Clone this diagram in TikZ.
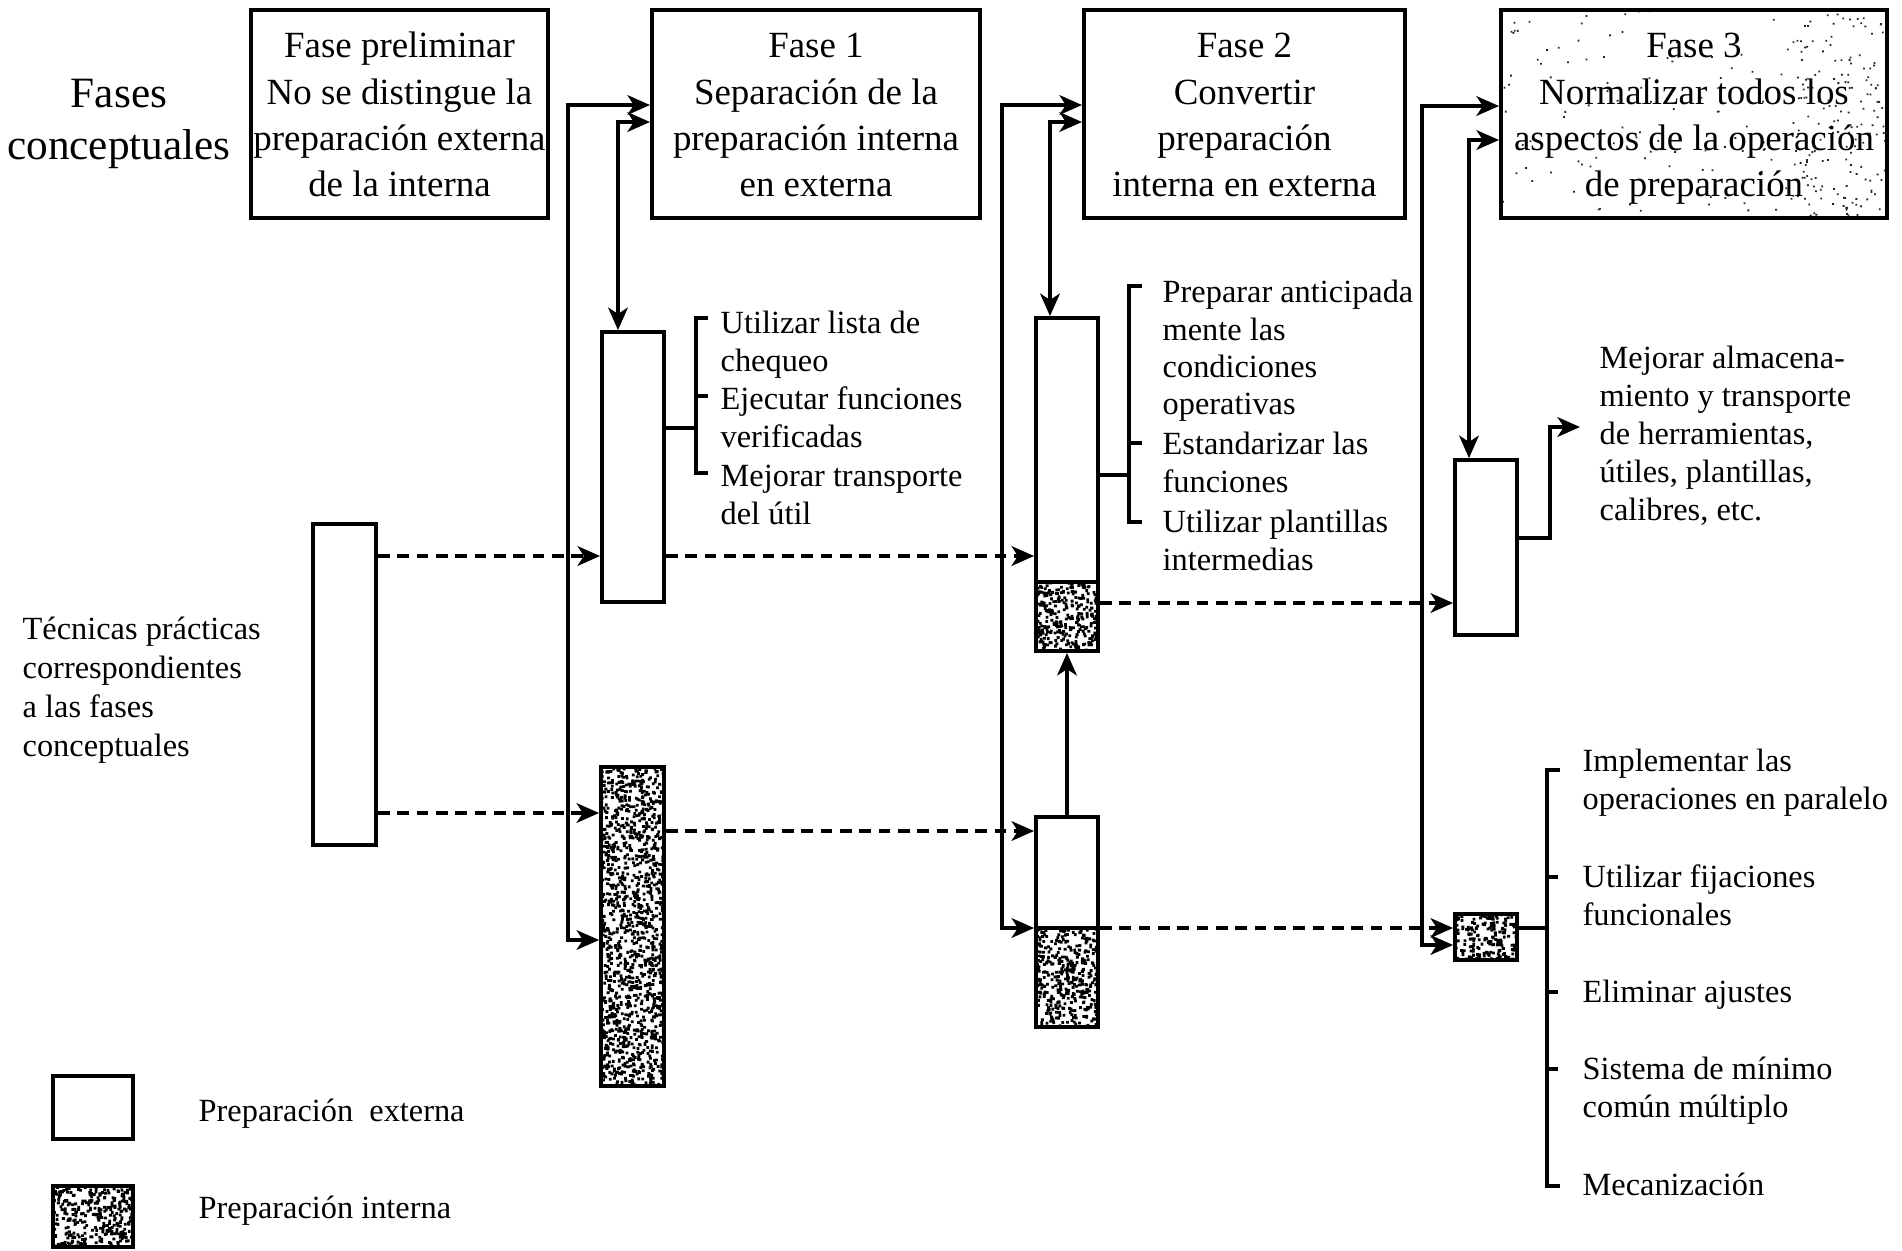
\documentclass[tikz,border=0pt]{standalone}
\usepackage{fontspec}
\setmainfont{Liberation Serif}
\usetikzlibrary{arrows.meta,fit}

% stippled fill for internal-preparation blocks: #1,#2 = top-left, #3,#4 = bottom-right, #5 = dot count
\newcommand\speckbox[5]{%
  \begin{scope}
    \clip (#1,#2) rectangle (#3,#4);
    \fill[white] (#1,#2) rectangle (#3,#4);
    \fill[black] \foreach \k in {1,...,#5} {({#1-2+rnd*(#3-#1+2)},{#2-2+rnd*(#4-#2+2)}) rectangle ++(2.8,2.8)};
  \end{scope}}

\begin{document}
\begin{tikzpicture}[x=0.01cm,y=-0.01cm]
\tikzset{
  hdr/.style={draw, line width=1.15pt, inner sep=0pt},
  htxt/.style={anchor=north, inner sep=0pt, align=center, font=\fontsize{10.5}{13.1}\selectfont},
  blk/.style={draw, line width=1.1pt, inner sep=0pt},
  item/.style={inner sep=0pt, anchor=north west, align=left, font=\fontsize{9.2}{10.6}\selectfont},
  link/.style={line width=0.95pt},
  barb/.tip={Stealth[length=6.4pt,width=5.6pt,inset=1.8pt]},
  arr/.style={link, -barb},
  dasharr/.style={arr, dash pattern=on 3.3pt off 2.2pt},
}
\pgfmathsetseed{4711}
\useasboundingbox[fill=white] (0,0) rectangle (1902,1250);

% ---------- conceptual phases (top row) ----------
\node[anchor=north, inner sep=0pt, align=center, font=\fontsize{12.3}{14.8}\selectfont] (fc) at (119,70) {\strut Fases\\conceptuales};

% light stipple in the last phase box, denser towards its right edge
\begin{scope}
  \clip (1501,10) rectangle (1887,218);
  \fill[black!85] \foreach \k in {1,...,150} {({1501+rnd*386},{10+rnd*208}) rectangle ++(1.8,1.8)};
  \fill[black!85] \foreach \k in {1,...,140} {({1790+rnd*97},{10+rnd*208}) rectangle ++(1.8,1.8)};
\end{scope}

\node[hdr, fit={(251,10) (548,218)}] (H0) {};
\node[hdr, fit={(652,10) (980,218)}] (H1) {};
\node[hdr, fit={(1084,10) (1405,218)}] (H2) {};
\node[hdr, fit={(1501,10) (1887,218)}] (H3) {};
\node[htxt] (H0t) at (H0.center |- 0,25) {\strut Fase preliminar\\No se distingue la\\preparación externa\\de la interna};
\node[htxt] (H1t) at (H1.center |- 0,25) {\strut Fase 1\\Separación de la\\preparación interna\\en externa};
\node[htxt] (H2t) at (H2.center |- 0,25) {\strut Fase 2\\Convertir\\preparación\\interna en externa};
\node[htxt] (H3t) at (H3.center |- 0,25) {\strut Fase 3\\Normalizar todos los\\aspectos de la operación\\de preparación};

% ---------- practical techniques (blocks) ----------
\speckbox{601}{767}{664}{1086}{1400}
\speckbox{1036}{582}{1098}{651}{300}
\speckbox{1036}{928}{1098}{1027}{430}
\speckbox{1455}{914}{1517}{960}{205}
\speckbox{53}{1186}{133}{1247}{345}

\node[blk, fit={(313,524) (376,845)}] (W0) {};
\node[blk, fit={(602,332) (664,602)}] (W1) {};
\node[blk, fit={(601,767) (664,1086)}] (G1) {};
\node[blk, fit={(1036,318) (1098,582)}] (W2a) {};
\node[blk, fit={(1036,582) (1098,651)}] (G2a) {};
\node[blk, fit={(1036,817) (1098,928)}] (W2b) {};
\node[blk, fit={(1036,928) (1098,1027)}] (G2b) {};
\node[blk, fit={(1455,460) (1517,635)}] (W3) {};
\node[blk, fit={(1455,914) (1517,960)}] (G3) {};

\node[item, font=\fontsize{9.2}{11.05}\selectfont] (tec) at (22,612) {\strut Técnicas prácticas\\correspondientes\\a las fases\\conceptuales};

% ---------- phase links ----------
\coordinate (v1t) at (568,105);  \coordinate (v1b) at (568,940);
\coordinate (v1i) at (618,122);
\coordinate (v2t) at (1002,105); \coordinate (v2b) at (1002,928);
\coordinate (v2i) at (1050,122);
\coordinate (v3t) at (1422,106); \coordinate (v3b) at (1422,945);
\coordinate (v3i) at (1469,140);

\draw[link, barb-barb] (H1.west |- v1t) -- (v1t) -- (v1b) -- (G1.west |- v1b);
\draw[link, barb-barb] (H1.west |- v1i) -- (v1i) -- (W1.north -| v1i);
\draw[link, barb-barb] (H2.west |- v2t) -- (v2t) -- (v2b) -- (W2b.west |- v2b);
\draw[link, barb-barb] (H2.west |- v2i) -- (v2i) -- (W2a.north -| v2i);
\draw[link, barb-barb] (H3.west |- v3t) -- (v3t) -- (v3b) -- (G3.west |- v3b);
\draw[link, barb-barb] (H3.west |- v3i) -- (v3i) -- (W3.north -| v3i);

% ---------- transfers between blocks ----------
\coordinate (r1) at (0,556);
\coordinate (r2) at (0,813);
\coordinate (r3) at (0,831);
\coordinate (r4) at (0,603);
\coordinate (r5) at (0,928);
\draw[dasharr] (W0.east |- r1) -- (W1.west |- r1);
\draw[dasharr] (W1.east |- r1) -- (W2a.west |- r1);
\draw[dasharr] (W0.east |- r2) -- (G1.west |- r2);
\draw[dasharr] (G1.east |- r3) -- (W2b.west |- r3);
\draw[dasharr] (G2a.east |- r4) -- (W3.west |- r4);
\draw[dasharr] (W2b.east |- r5) -- (G3.west |- r5);
\draw[arr] (W2b.north) -- (G2a.south);

% ---------- phase 1 techniques ----------
\coordinate (b1) at (696,428);
\draw[link] (W1.east |- b1) -- (b1);
\draw[link] (708,318) -- (696,318) -- (696,473) -- (708,473);
\draw[link] (696,396) -- (708,396);
\node[item] (t11) at (720,307) {\strut Utilizar lista de\\chequeo};
\node[item] (t12) at (720,383) {\strut Ejecutar funciones\\verificadas};
\node[item] (t13) at (720,460) {\strut Mejorar transporte\\del útil};

% ---------- phase 2 techniques ----------
\coordinate (b2) at (1129,475);
\draw[link] (W2a.east |- b2) -- (b2);
\draw[link] (1142,286) -- (1129,286) -- (1129,522) -- (1142,522);
\draw[link] (1129,443) -- (1142,443);
\node[item] (t21) at (1162,276) {\strut Preparar anticipada\\mente las\\condiciones\\operativas};
\node[item] (t22) at (1162,428) {\strut Estandarizar las\\funciones};
\node[item] (t23) at (1162,506) {\strut Utilizar plantillas\\intermedias};

% ---------- phase 3 techniques ----------
\coordinate (b3a) at (1550,538); \coordinate (b3b) at (1550,427); \coordinate (b3c) at (1580,427);
\draw[arr] (W3.east |- b3a) -- (b3a) -- (b3b) -- (b3c);
\node[item, font=\fontsize{9.2}{10.8}\selectfont] (t31) at (1599,341) {\strut Mejorar almacena-\\miento y transporte\\de herramientas,\\útiles, plantillas,\\calibres, etc.};

\coordinate (b4) at (1547,928);
\draw[link] (G3.east |- b4) -- (b4);
\draw[link] (1560,770) -- (1547,770) -- (1547,1186) -- (1560,1186);
\draw[link] (1547,877) -- (1558,877);
\draw[link] (1547,992) -- (1558,992);
\draw[link] (1547,1069) -- (1558,1069);
\node[item] (t41) at (1582,745) {\strut Implementar las\\operaciones en paralelo};
\node[item] (t42) at (1582,861) {\strut Utilizar fijaciones\\funcionales};
\node[item] (t43) at (1582,976) {\strut Eliminar ajustes};
\node[item] (t44) at (1582,1053) {\strut Sistema de mínimo\\común múltiplo};
\node[item] (t45) at (1582,1169) {\strut Mecanización};

% ---------- legend ----------
\node[blk, fit={(53,1076) (133,1139)}] (LW) {};
\node[blk, fit={(53,1186) (133,1247)}] (LG) {};
\node[anchor=west, inner sep=0pt, font=\fontsize{9.2}{11}\selectfont] (LWt) at (198,1114) {Preparación\ \ externa};
\node[anchor=west, inner sep=0pt, font=\fontsize{9.2}{11}\selectfont] (LGt) at (198,1211) {Preparación interna};
\end{tikzpicture}
\end{document}
